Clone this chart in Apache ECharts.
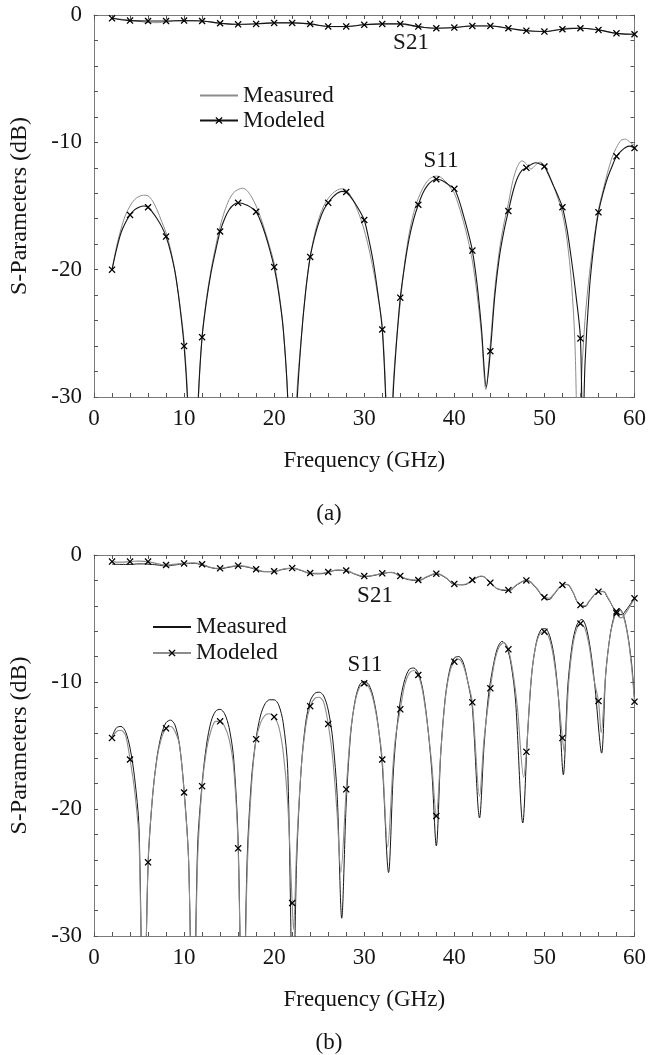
<!DOCTYPE html>
<html><head><meta charset="utf-8">
<script src="https://cdn.jsdelivr.net/npm/echarts@6/dist/echarts.min.js"></script>
<style>html,body{margin:0;padding:0;background:#fff}#c{width:649px;height:1055px}</style>
</head><body><div id="c"></div>
<script>
const FONT = '"Liberation Serif", "Times New Roman", serif';
const xTickValues = [0, 10, 20, 30, 40, 50, 60];
const yTickValues = [-30, -20, -10, 0];

// ---------- (a) ----------
const s21ModelA = [[2,-0.26],[4,-0.44],[6,-0.47],[8,-0.47],[10,-0.44],[12,-0.47],[14,-0.65],[16,-0.73],[18,-0.7],[20,-0.62],
  [22,-0.62],[24,-0.7],[26,-0.9],[28,-0.9],[30,-0.77],[32,-0.7],[34,-0.7],[36,-0.91],[38,-1.04],[40,-0.99],
  [42,-0.86],[44,-0.86],[46,-1.04],[48,-1.23],[50,-1.3],[52,-1.12],[54,-1.04],[56,-1.17],[58,-1.44],[60,-1.51]];
const s21MeasA = [[2,-0.22],[3,-0.33],[4,-0.42],[5,-0.5],[6,-0.58],[7,-0.6],[8,-0.52],[9,-0.46],[10,-0.45],[11,-0.43],
  [12,-0.47],[13,-0.55],[14,-0.62],[15,-0.72],[16,-0.75],[17,-0.72],[18,-0.68],[19,-0.64],[20,-0.6],[21,-0.6],
  [22,-0.62],[23,-0.66],[24,-0.72],[25,-0.82],[26,-0.9],[27,-0.92],[28,-0.9],[29,-0.83],[30,-0.76],[31,-0.72],
  [32,-0.7],[33,-0.7],[34,-0.72],[35,-0.82],[36,-0.92],[37,-1.0],[38,-1.04],[39,-1.02],[40,-0.98],[41,-0.9],
  [42,-0.85],[43,-0.84],[44,-0.86],[45,-0.95],[46,-1.06],[47,-1.16],[48,-1.24],[49,-1.3],[50,-1.3],[51,-1.2],
  [52,-1.1],[53,-1.02],[54,-1.03],[55,-1.1],[56,-1.18],[57,-1.3],[58,-1.45],[59,-1.5],[60,-1.52]];
const s11MeasA = [[2,-20],[2.5,-18.2],[3,-16.8],[3.5,-15.7],[4,-15.0],[4.5,-14.5],[5,-14.25],[5.5,-14.15],[6,-14.2],[6.5,-14.6],
  [7,-15.3],[7.5,-16.2],[8,-17.1],[8.5,-18.4],[9,-20.2],[9.5,-22.6],[10,-25.6],[10.4,-30],[11,-42],[11.6,-30],
  [12,-25.2],[12.5,-22.2],[13,-20.0],[13.5,-18.2],[14,-16.6],[14.5,-15.4],[15,-14.5],[15.5,-13.95],[16,-13.7],[16.5,-13.6],
  [17,-13.8],[17.5,-14.3],[18,-15.0],[18.5,-15.9],[19,-17.0],[19.5,-18.2],[20,-19.5],[20.5,-21.6],[21,-24.6],[21.5,-30],
  [22,-42],[22.5,-30],[23,-25.4],[23.5,-21.6],[24,-19.0],[24.5,-17.2],[25,-15.9],[25.5,-15.0],[26,-14.4],[26.5,-14.0],
  [27,-13.75],[27.5,-13.65],[28,-13.75],[28.5,-14.2],[29,-14.9],[29.5,-15.8],[30,-16.9],[30.5,-18.3],[31,-20.0],[31.5,-22.0],
  [32,-24.4],[32.4,-30],[32.8,-40],[33.15,-30],[33.5,-26.2],[34,-22.6],[34.5,-19.4],[35,-17.1],[35.5,-15.5],[36,-14.4],
  [36.5,-13.6],[37,-13.05],[37.5,-12.75],[38,-12.65],[38.5,-12.75],[39,-13.05],[39.5,-13.5],[40,-14.0],[40.5,-15.0],[41,-16.2],
  [41.5,-17.6],[42,-19.3],[42.5,-21.8],[43,-25.0],[43.5,-29.4],[44,-25.8],[44.5,-21.5],[45,-18.5],[45.5,-16.4],[46,-14.8],
  [46.5,-13.0],[47,-11.9],[47.5,-11.45],[48,-11.7],[48.5,-12.1],[49,-11.8],[49.5,-11.55],[50,-11.8],[50.5,-12.5],[51,-13.4],
  [51.5,-14.4],[52,-15.6],[52.5,-17.6],[53,-21.0],[53.4,-26],[53.8,-38],[54.1,-29],[54.5,-24],[55,-20.3],[55.5,-17.6],
  [56,-15.3],[56.5,-13.8],[57,-12.4],[57.5,-11.2],[58,-10.4],[58.5,-9.85],[59,-9.75],[59.5,-10.0],[60,-10.25]];
const s11ModelA = [[2,-20.0],[2.5,-18.4],[3,-17.1],[3.5,-16.3],[4,-15.7],[4.5,-15.3],[5,-15.1],[5.5,-15.0],[6,-15.1],[6.5,-15.5],
  [7,-16.0],[7.5,-16.6],[8,-17.4],[8.5,-18.6],[9,-20.2],[9.5,-22.7],[10,-26.0],[10.4,-30.5],[11,-42],[11.55,-30.5],
  [12,-25.3],[12.5,-22.4],[13,-20.2],[13.5,-18.5],[14,-17.0],[14.5,-16.0],[15,-15.3],[15.5,-14.9],[16,-14.75],[16.5,-14.8],
  [17,-14.95],[17.5,-15.15],[18,-15.45],[18.5,-16.2],[19,-17.2],[19.5,-18.4],[20,-19.8],[20.5,-21.8],[21,-24.6],[21.5,-30],
  [22,-42],[22.5,-31],[23,-25.5],[23.5,-21.7],[24,-19.0],[24.5,-17.4],[25,-16.2],[25.5,-15.3],[26,-14.75],[26.5,-14.3],
  [27,-14.0],[27.5,-13.85],[28,-13.9],[28.5,-14.3],[29,-14.8],[29.5,-15.4],[30,-16.1],[30.5,-17.6],[31,-19.4],[31.5,-21.8],
  [32,-24.7],[32.4,-30.5],[32.8,-40],[33.2,-30],[33.5,-26.5],[34,-22.2],[34.5,-19.6],[35,-17.5],[35.5,-16.0],[36,-14.9],
  [36.5,-14.0],[37,-13.4],[37.5,-13.05],[38,-12.9],[38.5,-12.95],[39,-13.15],[39.5,-13.4],[40,-13.65],[40.5,-14.5],[41,-15.7],
  [41.5,-17.0],[42,-18.5],[42.5,-21.0],[43,-24.5],[43.55,-29.2],[44,-26.4],[44.5,-22.0],[45,-19.0],[45.5,-17.0],[46,-15.4],
  [46.5,-13.9],[47,-12.8],[47.5,-12.2],[48,-12.0],[48.5,-11.75],[49,-11.6],[49.5,-11.7],[50,-11.9],[50.5,-12.6],[51,-13.4],
  [51.5,-14.2],[52,-15.1],[52.5,-16.8],[53,-19.2],[53.5,-22.0],[54,-25.4],[54.25,-34],[54.5,-27.5],[55,-21.5],[55.5,-18.0],
  [56,-15.5],[56.5,-14.0],[57,-12.8],[57.5,-11.9],[58,-11.1],[58.5,-10.7],[59,-10.4],[59.5,-10.3],[60,-10.45]];

// ---------- (b) ----------
const s21ModelB = [[2,-0.52],[3,-0.56],[4,-0.52],[5,-0.48],[6,-0.52],[7,-0.68],[8,-0.79],[9,-0.72],[10,-0.66],[11,-0.62],
  [12,-0.73],[13,-0.98],[14,-1.05],[15,-0.92],[16,-0.84],[17,-0.92],[18,-1.12],[19,-1.3],[20,-1.28],[21,-1.1],
  [22,-1.03],[23,-1.2],[24,-1.42],[25,-1.45],[26,-1.34],[27,-1.18],[28,-1.22],[29,-1.5],[30,-1.66],[31,-1.6],
  [32,-1.44],[33,-1.36],[34,-1.65],[35,-1.92],[36,-1.97],[37,-1.7],[38,-1.47],[39,-1.75],[40,-2.28],[41,-2.32],
  [42,-1.97],[43,-1.65],[44,-2.18],[45,-2.7],[46,-2.76],[47,-2.3],[48,-2.0],[49,-2.5],[50,-3.33],[50.5,-3.4],
  [51,-3.1],[52,-2.36],[52.5,-2.3],[53,-2.7],[54,-3.94],[54.5,-4.0],[55,-3.6],[56,-2.89],[56.5,-2.85],[57,-3.3],
  [58,-4.59],[58.5,-4.95],[59,-4.6],[60,-3.41]];
const s21MeasB = [[2,-0.72],[3,-0.74],[4,-0.74],[5,-0.7],[6,-0.72],[7,-0.78],[8,-0.86],[9,-0.78],[10,-0.7],[11,-0.66],
  [12,-0.78],[13,-1.0],[14,-1.08],[15,-0.96],[16,-0.88],[17,-0.95],[18,-1.15],[19,-1.32],[20,-1.3],[21,-1.13],
  [22,-1.06],[23,-1.22],[24,-1.45],[25,-1.48],[26,-1.36],[27,-1.2],[28,-1.25],[29,-1.52],[30,-1.7],[31,-1.62],
  [32,-1.46],[33,-1.38],[34,-1.68],[35,-1.95],[36,-2.0],[37,-1.72],[38,-1.5],[39,-1.78],[40,-2.3],[41,-2.35],
  [42,-2.0],[43,-1.68],[44,-2.2],[45,-2.72],[46,-2.8],[47,-2.33],[48,-2.03],[49,-2.55],[50,-3.4],[50.5,-3.5],
  [51,-3.15],[52,-2.4],[52.5,-2.33],[53,-2.72],[54,-3.97],[54.5,-4.05],[55,-3.62],[56,-2.92],[56.5,-2.88],[57,-3.35],
  [58,-4.5],[58.5,-4.7],[59,-4.4],[60,-3.35]];
const s11MeasB = [[2,-14.3],[2.5,-13.6],[3,-13.5],[3.5,-13.9],[4,-15.2],[4.5,-17.5],[5,-21.5],[5.5,-40],[6,-24.5],[6.5,-19.0],
  [7,-15.9],[7.5,-14.1],[8,-13.2],[8.5,-13.0],[9,-13.4],[9.5,-15.0],[10,-18.5],[10.5,-24.0],[11,-40],[11.5,-23.0],
  [12,-18.0],[12.5,-14.9],[13,-13.1],[13.5,-12.3],[14,-12.15],[14.5,-12.5],[15,-13.6],[15.5,-16.0],[16,-22.5],[16.5,-40],
  [17,-24.0],[17.5,-17.5],[18,-14.4],[18.5,-12.6],[19,-11.7],[19.5,-11.4],[20,-11.4],[20.5,-11.8],[21,-13.2],[21.5,-16.8],
  [22.1,-36],[22.5,-24.0],[23,-16.8],[23.5,-13.2],[24,-11.5],[24.5,-10.9],[25,-10.8],[25.5,-11.1],[26,-12.2],[26.5,-14.5],
  [27,-19.0],[27.5,-28.6],[28,-19.5],[28.5,-14.0],[29,-11.4],[29.5,-10.2],[30,-9.95],[30.5,-10.2],[31,-11.2],[31.5,-13.2],
  [32,-16.5],[32.7,-25.0],[33.2,-17.5],[33.5,-14.5],[34,-11.5],[34.5,-9.8],[35,-9.0],[35.5,-8.9],[36,-9.3],[36.5,-10.6],
  [37,-13.2],[37.5,-17.0],[38,-22.9],[38.5,-15.5],[39,-11.2],[39.5,-9.0],[40,-8.1],[40.5,-8.0],[41,-8.5],[41.5,-10.0],
  [42,-12.0],[42.8,-20.7],[43.3,-15.0],[43.8,-11.0],[44.3,-8.8],[44.8,-7.3],[45.3,-6.8],[45.8,-7.2],[46.3,-8.6],[46.8,-11.5],
  [47.6,-21.1],[48.1,-14.5],[48.6,-9.3],[49.1,-6.9],[49.6,-5.9],[50.1,-5.8],[50.6,-6.4],[51.1,-8.1],[51.6,-11.6],[52.1,-17.3],
  [52.6,-10.3],[53.1,-7.0],[53.6,-5.5],[54.15,-5.07],[54.6,-5.6],[55.1,-7.4],[55.6,-10.3],[56.35,-15.6],[56.8,-9.4],[57.3,-6.3],
  [57.8,-4.7],[58.3,-4.2],[58.8,-4.8],[59.3,-6.5],[59.7,-8.7],[60,-11.3]];
const s11ModelB = [[2,-14.4],[2.5,-13.9],[3,-13.8],[3.5,-14.2],[4,-16.1],[4.5,-18.5],[5,-22.5],[5.5,-40],[6,-24.2],[6.5,-19.0],
  [7,-16.0],[7.5,-14.4],[8,-13.65],[8.5,-13.5],[9,-13.9],[9.5,-15.0],[10,-18.7],[10.5,-24.0],[11,-40],[11.5,-24.0],
  [12,-18.2],[12.5,-15.3],[13,-13.8],[13.5,-13.1],[14,-13.1],[14.5,-13.5],[15,-14.5],[15.5,-16.7],[16,-23.1],[16.5,-40],
  [17,-25.0],[17.5,-18.0],[18,-14.5],[18.5,-13.2],[19,-12.6],[19.5,-12.5],[20,-12.75],[20.5,-13.5],[21,-15.5],[21.5,-19.5],
  [22,-27.4],[22.15,-29.5],[22.5,-23.0],[23,-16.8],[23.5,-13.5],[24,-11.9],[24.5,-11.3],[25,-11.2],[25.5,-11.6],[26,-13.3],
  [26.5,-16.0],[27,-20.5],[27.4,-25.0],[28,-18.45],[28.5,-13.8],[29,-11.5],[29.5,-10.4],[30,-10.1],[30.5,-10.4],[31,-11.4],
  [31.5,-13.3],[32,-16.1],[32.6,-23.0],[33.2,-16.5],[33.5,-14.2],[34,-12.15],[34.5,-10.2],[35,-9.3],[35.5,-9.1],[36,-9.45],
  [36.5,-10.8],[37,-13.3],[37.5,-16.5],[38,-20.55],[38.5,-15.5],[39,-11.3],[39.5,-9.2],[40,-8.4],[40.5,-8.2],[41,-8.7],
  [41.5,-10.0],[42,-11.6],[42.8,-19.0],[43.3,-14.5],[44,-10.5],[44.5,-8.3],[45,-7.2],[45.5,-6.9],[46,-7.43],[46.5,-9.2],
  [47,-12.0],[47.7,-17.5],[48,-15.5],[48.5,-10.0],[49,-7.3],[49.5,-6.2],[50,-6.04],[50.5,-6.5],[51,-8.0],[51.5,-10.8],
  [52,-14.4],[52.2,-15.5],[52.7,-10.0],[53.2,-6.9],[53.7,-5.6],[54,-5.4],[54.5,-5.8],[55,-7.3],[55.5,-9.8],[56,-11.5],
  [56.3,-14.0],[56.8,-9.4],[57.3,-6.3],[57.8,-4.8],[58,-4.45],[58.3,-4.3],[58.8,-4.9],[59.3,-6.6],[59.7,-9.0],[60,-11.55]];

const legendNames = ['Measured', 'Modeled'];

const X_SYMBOL = 'path://M0,1.3L1.3,0L5,3.7L8.7,0L10,1.3L6.3,5L10,8.7L8.7,10L5,6.3L1.3,10L0,8.7L3.7,5Z';
const GRAY = '#8c8c8c', DARK = '#151515', FRAME = '#7a7a7a';

function markerData(pairs) {
  return pairs.map(p => (Number.isInteger(p[0]) && p[0] % 2 === 0) ? {value: p} : {value: p, symbol: 'none'});
}
function xAx(gi, pos, main) {
  return {type: 'value', gridIndex: gi, position: pos, min: 0, max: 60, interval: 10,
    axisLine: {show: true, onZero: false, lineStyle: {color: FRAME, width: 1}},
    axisTick: {show: true, inside: true, length: 4, lineStyle: {color: '#555'}},
    minorTick: {show: true, splitNumber: 5, length: 4, lineStyle: {color: '#555'}},
    splitLine: {show: false},
    axisLabel: {show: main, margin: 10, fontSize: 23, color: DARK, fontFamily: FONT,
      showMinLabel: true, showMaxLabel: true,
      formatter: v => xTickValues.indexOf(v) >= 0 ? String(v) : ''},
    name: main ? 'Frequency (GHz)' : '', nameLocation: 'middle', nameGap: 52,
    nameTextStyle: {fontSize: 23, color: DARK, fontFamily: FONT}};
}
function yAx(gi, pos, main) {
  return {type: 'value', gridIndex: gi, position: pos, min: -30, max: 0, interval: 10,
    axisLine: {show: true, onZero: false, lineStyle: {color: FRAME, width: 1}},
    axisTick: {show: true, inside: true, length: 4, lineStyle: {color: '#555'}},
    minorTick: {show: true, splitNumber: 5, length: 4, lineStyle: {color: '#555'}},
    splitLine: {show: false},
    axisLabel: {show: main, margin: 12, fontSize: 23, color: DARK, fontFamily: FONT,
      showMinLabel: true, showMaxLabel: true,
      formatter: v => yTickValues.indexOf(v) >= 0 ? String(v) : ''},
    name: main ? 'S-Parameters (dB)' : '', nameLocation: 'middle', nameGap: 62, nameRotate: 90,
    nameTextStyle: {fontSize: 24, color: DARK, fontFamily: FONT}};
}
function measSeries(name, xi, yi, data, color, sm) {
  return {name: name, type: 'line', xAxisIndex: xi, yAxisIndex: yi, data: data, symbol: 'none',
    smooth: sm, lineStyle: {color: color, width: 1}, itemStyle: {color: color}, z: 2, silent: true};
}
function modelSeries(name, xi, yi, data, lineColor, sm) {
  return {name: name, type: 'line', xAxisIndex: xi, yAxisIndex: yi, data: markerData(data),
    symbol: X_SYMBOL, symbolSize: 7, showSymbol: true, smooth: sm,
    lineStyle: {color: lineColor, width: 1.1}, itemStyle: {color: '#000'}, z: 3, silent: true};
}
function legendFor(tag, left, top, lh) {
  return {orient: 'vertical', left: left, top: top, itemWidth: 38, itemHeight: 9, itemGap: 0,
    selectedMode: false,
    data: [{name: legendNames[0] + ' ' + tag, itemStyle: {opacity: 0}}, {name: legendNames[1] + ' ' + tag}],
    formatter: n => n.replace(/ \([ab]\)$/, ''),
    textStyle: {fontFamily: FONT, fontSize: 23, color: DARK, lineHeight: lh}};
}
function label(text, x, y) {
  return {type: 'text', x: x, y: y, silent: true,
    style: {text: text, font: '23px ' + FONT, fill: DARK, align: 'center', verticalAlign: 'middle',
      textAlign: 'center', textVerticalAlign: 'middle'}};
}

const chart = echarts.init(document.getElementById('c'), null, {renderer: 'canvas'});
chart.setOption({
  animation: false,
  backgroundColor: '#fff',
  grid: [{left: 93, right: 13, top: 15, height: 382}, {left: 93, right: 13, top: 555, height: 381}],
  xAxis: [xAx(0, 'bottom', true), xAx(0, 'top', false), xAx(1, 'bottom', true), xAx(1, 'top', false)],
  yAxis: [yAx(0, 'left', true), yAx(0, 'right', false), yAx(1, 'left', true), yAx(1, 'right', false)],
  legend: [legendFor('(a)', 194, 78, 25), legendFor('(b)', 147, 609, 26)],
  series: [
    measSeries('Measured (a)', 0, 0, s11MeasA, GRAY, 0.3),
    measSeries('Measured (a)', 0, 0, s21MeasA, GRAY, 0.5),
    modelSeries('Modeled (a)', 0, 0, s11ModelA, DARK, 0.3),
    modelSeries('Modeled (a)', 0, 0, s21ModelA, DARK, 0.5),
    measSeries('Measured (b)', 2, 2, s11MeasB, DARK, 0.3),
    measSeries('Measured (b)', 2, 2, s21MeasB, DARK, 0.5),
    modelSeries('Modeled (b)', 2, 2, s11ModelB, GRAY, 0.3),
    modelSeries('Modeled (b)', 2, 2, s21ModelB, GRAY, 0.5)
  ],
  graphic: [
    label('S21', 411, 43), label('S11', 441, 161),
    label('S21', 375, 596), label('S11', 365, 665),
    label('(a)', 329, 514), label('(b)', 329, 1043)
  ]
});
</script></body></html>
